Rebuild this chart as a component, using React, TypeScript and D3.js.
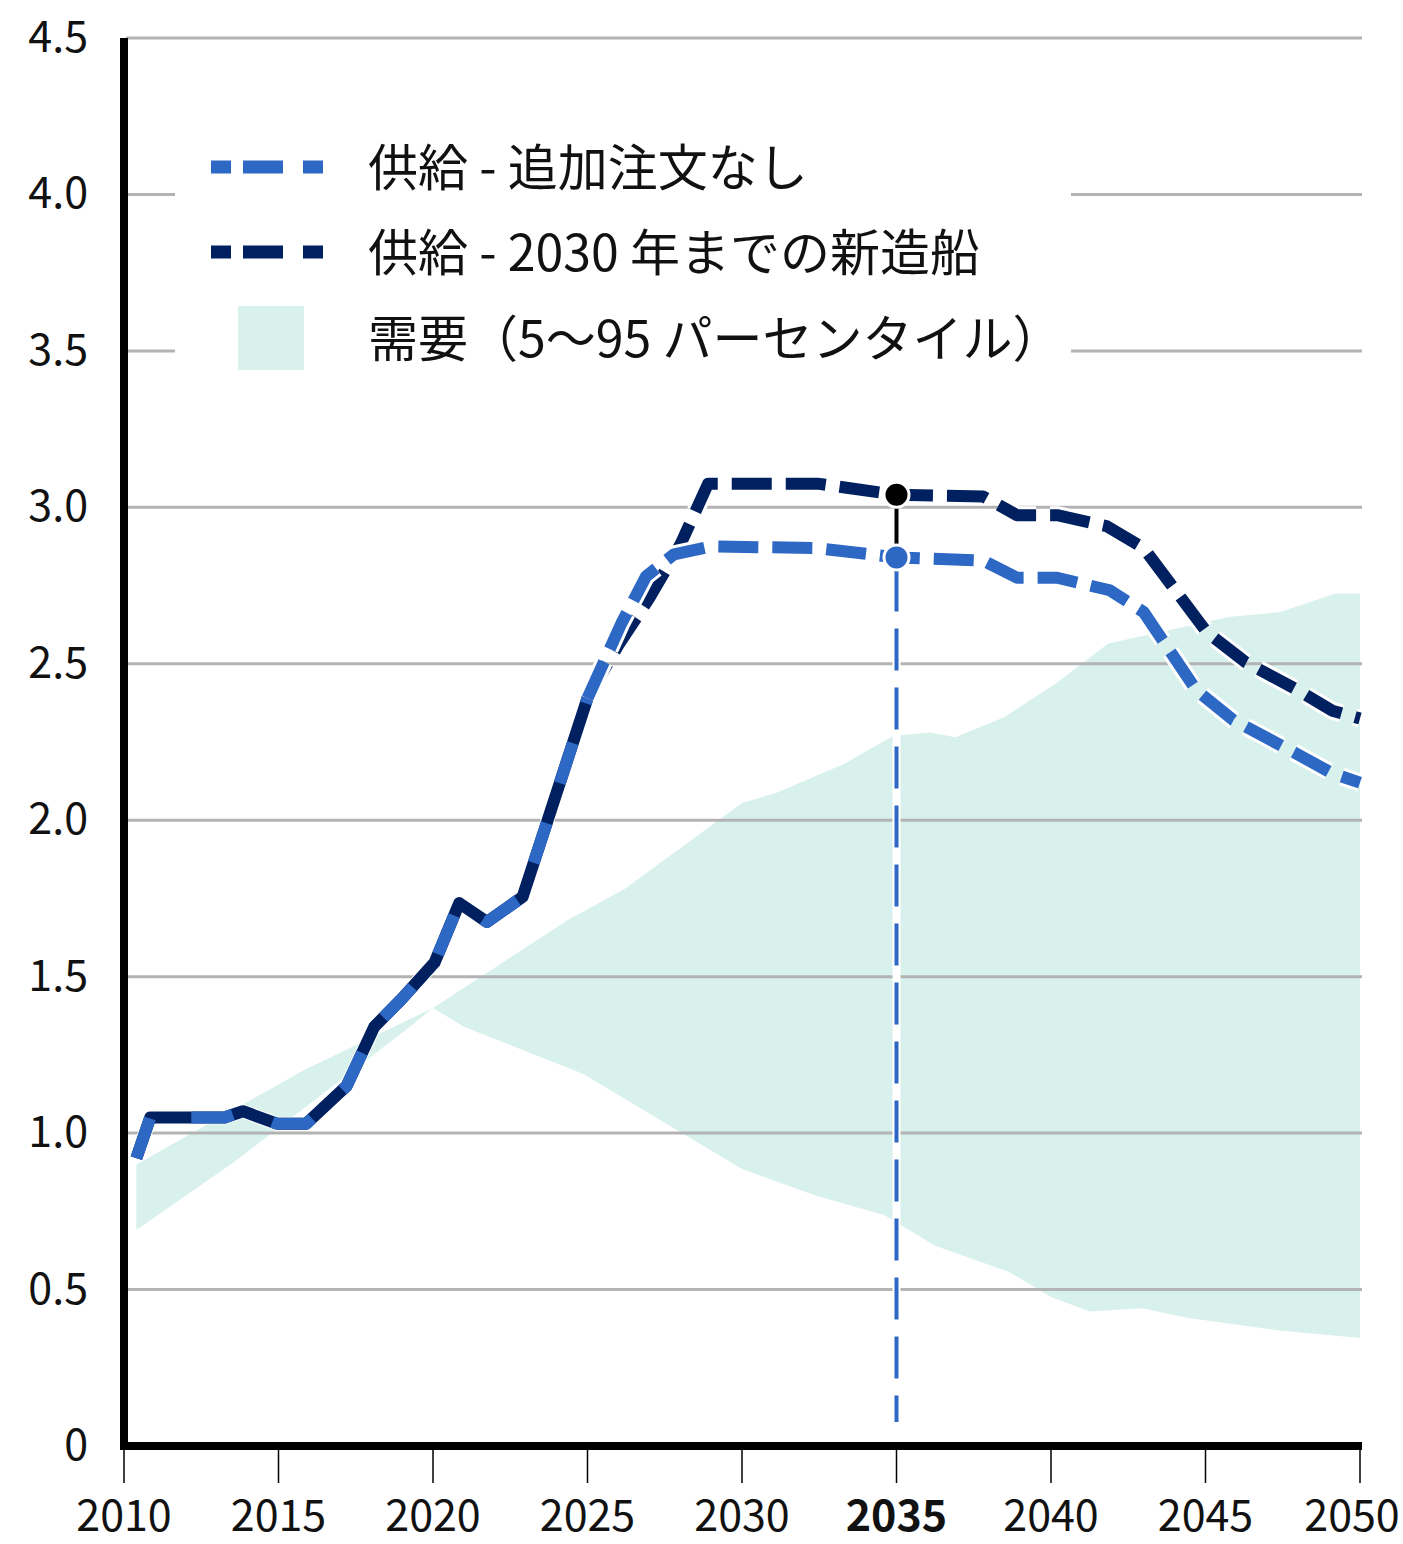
import * as d3 from 'd3';
import { useRef, useEffect } from 'react';

// shared history (both supply series are identical here)
const histYears = [2010.4, 2010.85, 2013.25, 2013.85, 2014.95, 2015.9, 2017.2, 2018.1, 2019.0, 2020.05, 2020.85, 2021.75, 2022.9, 2025.0];
const histValues = [0.92, 1.05, 1.05, 1.07, 1.03, 1.03, 1.15, 1.34, 1.43, 1.545, 1.735, 1.675, 1.755, 2.39];

// supply - no additional orders
const noOrderYears = [2025.0, 2026.1, 2026.9, 2027.8, 2029.0, 2032.4, 2035.0, 2037.8, 2038.9, 2040.2, 2041.9, 2043.0, 2044.7, 2045.9, 2047.9, 2049.1, 2050.0];
const noOrderValues = [2.39, 2.63, 2.78, 2.85, 2.875, 2.87, 2.84, 2.83, 2.775, 2.775, 2.735, 2.665, 2.416, 2.32, 2.215, 2.15, 2.12];

// supply - newbuilds until 2030
const newbuildYears = [2025.0, 2026.0, 2027.0, 2028.0, 2028.9, 2032.5, 2035.0, 2037.8, 2038.9, 2040.2, 2041.8, 2043.0, 2045.05, 2046.3, 2048.0, 2049.1, 2050.0];
const newbuildValues = [2.39, 2.56, 2.71, 2.88, 3.075, 3.075, 3.04, 3.035, 2.975, 2.975, 2.94, 2.87, 2.6, 2.505, 2.415, 2.35, 2.325];

// demand band (5-95 percentile)
const demandHighYears = [2010.4, 2015.8, 2020.0, 2024.35, 2026.2, 2030.0, 2031.1, 2033.3, 2034.9, 2036.1, 2036.9, 2038.5, 2040.2, 2041.85, 2045.8, 2047.4, 2049.2, 2050.0];
const demandHighValues = [0.9, 1.2, 1.4, 1.68, 1.78, 2.055, 2.087, 2.18, 2.27, 2.28, 2.265, 2.33, 2.44, 2.565, 2.65, 2.665, 2.725, 2.725];
const demandLowYears = [2010.4, 2013.6, 2019.25, 2020.0, 2021.0, 2024.85, 2030.0, 2032.4, 2034.6, 2036.25, 2038.65, 2040.0, 2041.25, 2042.95, 2044.4, 2047.3, 2050.0];
const demandLowValues = [0.69, 0.91, 1.34, 1.4, 1.34, 1.19, 0.885, 0.8, 0.738, 0.64, 0.556, 0.476, 0.43, 0.44, 0.41, 0.37, 0.345];

const markerYear = 2035;
const yTicks = [0, 0.5, 1.0, 1.5, 2.0, 2.5, 3.0, 3.5, 4.0, 4.5];
const xTicks = [2010, 2015, 2020, 2025, 2030, 2035, 2040, 2045, 2050];

const legendLabels = ['供給 - 追加注文なし', '供給 - 2030 年までの新造船', '需要（5〜95 パーセンタイル）'];

const LIGHT = '#2d68c4';
const DARK = '#00205f';
const BAND = '#d9f1ec';
const GRID = '#b3b3b3';
const FONT = '"Noto Sans CJK JP", "Noto Sans", sans-serif';

export default function App() {
    const ref = useRef<SVGSVGElement>(null);

    useEffect(() => {
        const width = 1403;
        const height = 1544;
        const svg = d3.select(ref.current).attr('width', width).attr('height', height);
        svg.selectAll('*').remove();

        const x = d3.scaleLinear().domain([2010, 2050]).range([124, 1360]);
        const y = d3.scaleLinear().domain([0, 4.5]).range([1446, 38]);

        const zip = (xs: number[], vs: number[]) => xs.map((yr, i) => [yr, vs[i]] as [number, number]);
        const line = d3.line<[number, number]>().x(d => x(d[0])).y(d => y(d[1]));

        // demand band as polygon: upper edge then lower edge reversed
        const bandPts = zip(demandHighYears, demandHighValues).concat(zip(demandLowYears, demandLowValues).reverse());
        svg.append('path')
            .attr('d', line(bandPts) + 'Z')
            .attr('fill', BAND);

        // gridlines
        svg.append('g').selectAll('line')
            .data(yTicks.filter(t => t > 0))
            .enter().append('line')
            .attr('x1', 126).attr('x2', 1362)
            .attr('y1', d => y(d)).attr('y2', d => y(d))
            .attr('stroke', GRID).attr('stroke-width', 3);

        // legend background covers the gridlines
        svg.append('rect')
            .attr('x', 175).attr('y', 108).attr('width', 896).attr('height', 285)
            .attr('fill', '#fff');

        // y labels
        svg.append('g').selectAll('text')
            .data(yTicks)
            .enter().append('text')
            .attr('x', 88).attr('y', d => y(d) - 5)
            .attr('text-anchor', 'end')
            .attr('dominant-baseline', 'central')
            .style('font-family', FONT).style('font-size', '43px').style('fill', '#111')
            .text(d => d === 0 ? '0' : d.toFixed(1));

        // x ticks and labels
        svg.append('g').selectAll('line')
            .data(xTicks)
            .enter().append('line')
            .attr('x1', d => x(d)).attr('x2', d => x(d))
            .attr('y1', 1446).attr('y2', 1483)
            .attr('stroke', '#000').attr('stroke-width', 1.5);
        svg.append('g').selectAll('text')
            .data(xTicks)
            .enter().append('text')
            .attr('x', d => Math.min(x(d), 1352))
            .attr('y', 1531)
            .attr('text-anchor', 'middle')
            .style('font-family', FONT).style('font-size', '43px').style('fill', '#111')
            .style('font-weight', d => d === markerYear ? 700 : 400)
            .text(d => d);

        // 2035 vertical marker
        const lightAt = noOrderValues[noOrderYears.indexOf(markerYear)];
        const darkAt = newbuildValues[newbuildYears.indexOf(markerYear)];
        svg.append('line')
            .attr('x1', x(markerYear)).attr('x2', x(markerYear))
            .attr('y1', y(lightAt)).attr('y2', 1422)
            .attr('stroke', '#fff').attr('stroke-width', 8);
        svg.append('line')
            .attr('x1', x(markerYear)).attr('x2', x(markerYear))
            .attr('y1', y(lightAt) + 12).attr('y2', 1422)
            .attr('stroke', LIGHT).attr('stroke-width', 4)
            .attr('stroke-dasharray', '42 17');

        // history: dark solid below, light dashes on top
        const hist = zip(histYears, histValues);
        svg.append('path').datum(hist).attr('d', line)
            .attr('fill', 'none').attr('stroke', '#fff').attr('stroke-width', 14)
            .attr('stroke-linejoin', 'round');
        svg.append('path').datum(hist).attr('d', line)
            .attr('fill', 'none').attr('stroke', DARK).attr('stroke-width', 12)
            .attr('stroke-linejoin', 'round');
        svg.append('path').datum(hist).attr('d', line)
            .attr('fill', 'none').attr('stroke', LIGHT).attr('stroke-width', 12)
            .attr('stroke-linejoin', 'round')
            .attr('stroke-dasharray', '42 42');

        // projections, each dash with a white halo
        const drawDashed = (pts: [number, number][], color: string) => {
            svg.append('path').datum(pts).attr('d', line)
                .attr('fill', 'none').attr('stroke', '#fff').attr('stroke-width', 18)
                .attr('stroke-linejoin', 'round')
                .attr('stroke-dasharray', '40 14');
            svg.append('path').datum(pts).attr('d', line)
                .attr('fill', 'none').attr('stroke', color).attr('stroke-width', 12)
                .attr('stroke-linejoin', 'round')
                .attr('stroke-dasharray', '40 14');
        };
        drawDashed(zip(newbuildYears, newbuildValues), DARK);
        drawDashed(zip(noOrderYears, noOrderValues), LIGHT);

        // connector and dots at 2035
        svg.append('line')
            .attr('x1', x(markerYear)).attr('x2', x(markerYear))
            .attr('y1', y(darkAt)).attr('y2', y(lightAt))
            .attr('stroke', '#000').attr('stroke-width', 4);
        svg.append('circle')
            .attr('cx', x(markerYear)).attr('cy', y(lightAt)).attr('r', 12.5)
            .attr('fill', LIGHT).attr('stroke', '#fff').attr('stroke-width', 3);
        svg.append('circle')
            .attr('cx', x(markerYear)).attr('cy', y(darkAt)).attr('r', 12.5)
            .attr('fill', '#000').attr('stroke', '#fff').attr('stroke-width', 3);

        // axes
        svg.append('line')
            .attr('x1', 124).attr('x2', 124).attr('y1', 38).attr('y2', 1450)
            .attr('stroke', '#000').attr('stroke-width', 8);
        svg.append('line')
            .attr('x1', 120).attr('x2', 1362).attr('y1', 1446).attr('y2', 1446)
            .attr('stroke', '#000').attr('stroke-width', 8);

        // legend
        const legend = svg.append('g');
        const rowY = [167, 252, 338];
        [LIGHT, DARK].forEach((c, i) => {
            legend.append('line')
                .attr('x1', 211).attr('x2', 323)
                .attr('y1', rowY[i]).attr('y2', rowY[i])
                .attr('stroke', c).attr('stroke-width', 13)
                .attr('stroke-dasharray', '20 12 40 20 20');
        });
        legend.append('rect')
            .attr('x', 238).attr('y', 306).attr('width', 66).attr('height', 64)
            .attr('fill', BAND);
        legend.selectAll('text')
            .data(legendLabels)
            .enter().append('text')
            .attr('x', 368).attr('y', (d, i) => rowY[i] - 3)
            .attr('dominant-baseline', 'central')
            .style('font-family', FONT).style('font-size', '50px').style('fill', '#111')
            .text(d => d);
    }, []);

    return (
        <svg ref={ref} style={{ position: 'absolute', left: 0, top: 0 }}></svg>
    );
}
